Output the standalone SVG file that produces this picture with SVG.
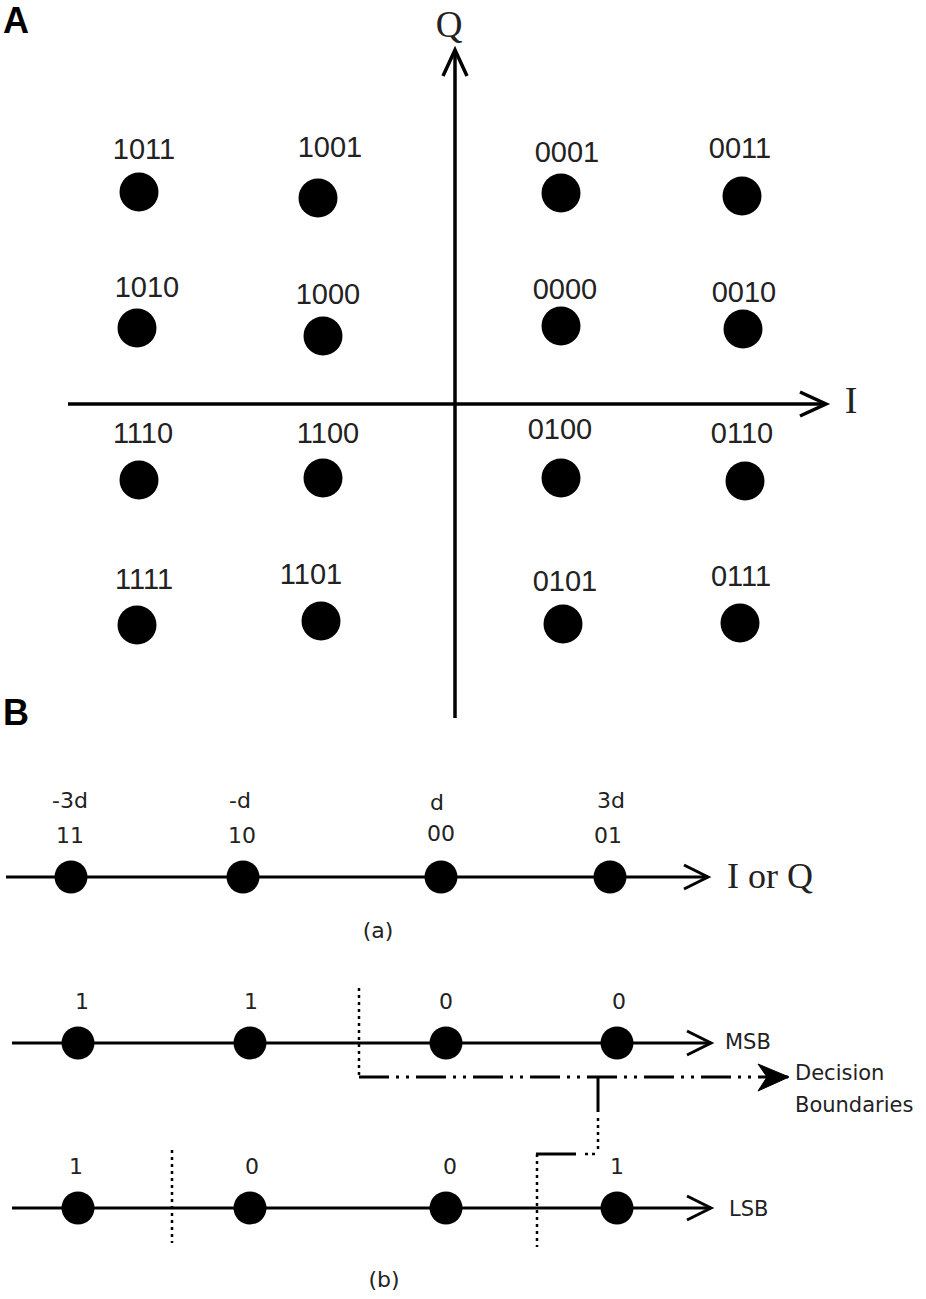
<svg xmlns="http://www.w3.org/2000/svg" width="926" height="1299" viewBox="0 0 926 1299">
<style>
.axis{stroke:#000;stroke-width:3.5;fill:none}
.ln{stroke:#000;stroke-width:3;fill:none}
.dot{fill:#000}
.lblA{font-family:"Liberation Sans",Arial,sans-serif;font-size:29px;fill:#222;text-anchor:middle}
.lblB{font-family:"DejaVu Sans",sans-serif;font-size:22px;fill:#222;text-anchor:middle}
.serif{font-family:"Liberation Serif","Times New Roman",serif;fill:#222}
.panel{font-family:"Liberation Sans",Arial,sans-serif;font-weight:bold;font-size:36px;fill:#000}
.side{font-family:"DejaVu Sans",sans-serif;font-size:21px;fill:#222}
.dotted{stroke:#000;stroke-width:2.5;stroke-dasharray:3 4;fill:none}
.dashdot{stroke:#000;stroke-width:3;stroke-dasharray:30 7 3 7 3 7;fill:none}
</style>
<defs>
<marker id="open" markerUnits="userSpaceOnUse" markerWidth="40" markerHeight="40" refX="0" refY="0" viewBox="-30 -20 34 40" orient="auto" overflow="visible">
<path d="M-26,-12 L0,0 L-26,12" fill="none" stroke="#000" stroke-width="3.5"/>
</marker>
<marker id="openS" markerUnits="userSpaceOnUse" markerWidth="40" markerHeight="40" refX="0" refY="0" viewBox="-30 -20 34 40" orient="auto" overflow="visible">
<path d="M-24,-12 L0,0 L-24,12" fill="none" stroke="#000" stroke-width="3"/>
</marker>
<marker id="filled" markerUnits="userSpaceOnUse" markerWidth="40" markerHeight="40" refX="0" refY="0" viewBox="-36 -20 40 40" orient="auto" overflow="visible">
<path d="M-31,-13 L0,0 L-31,14 L-22,0 Z" fill="#000" stroke="#000" stroke-width="1"/>
</marker>
</defs>
<rect width="926" height="1299" fill="#fff"/>

<!-- Panel A -->
<text class="panel" x="3" y="33">A</text>
<g id="connectors-A">
<line class="axis" x1="455" y1="718" x2="455" y2="50" marker-end="url(#open)"/>
<line class="axis" x1="68" y1="404" x2="826" y2="404" marker-end="url(#open)"/>
</g>
<text class="serif" x="449" y="37" font-size="37" text-anchor="middle">Q</text>
<text class="serif" x="851" y="413" font-size="38" text-anchor="middle">I</text>

<g id="p1011"><circle class="dot" cx="139" cy="192" r="19.5"/><text class="lblA" x="144" y="159">1011</text></g>
<g id="p1001"><circle class="dot" cx="318" cy="198" r="19.5"/><text class="lblA" x="330" y="157">1001</text></g>
<g id="p0001"><circle class="dot" cx="561" cy="193" r="19.5"/><text class="lblA" x="567" y="162">0001</text></g>
<g id="p0011"><circle class="dot" cx="742" cy="196" r="19.5"/><text class="lblA" x="740" y="158">0011</text></g>

<g id="p1010"><circle class="dot" cx="137" cy="328" r="19.5"/><text class="lblA" x="147" y="297">1010</text></g>
<g id="p1000"><circle class="dot" cx="323" cy="336" r="19.5"/><text class="lblA" x="328" y="304">1000</text></g>
<g id="p0000"><circle class="dot" cx="561" cy="326" r="19.5"/><text class="lblA" x="565" y="299">0000</text></g>
<g id="p0010"><circle class="dot" cx="743" cy="329" r="19.5"/><text class="lblA" x="744" y="302">0010</text></g>

<g id="p1110"><circle class="dot" cx="139" cy="480" r="19.5"/><text class="lblA" x="143" y="443">1110</text></g>
<g id="p1100"><circle class="dot" cx="323" cy="478" r="19.5"/><text class="lblA" x="328" y="443">1100</text></g>
<g id="p0100"><circle class="dot" cx="561" cy="478" r="19.5"/><text class="lblA" x="560" y="439">0100</text></g>
<g id="p0110"><circle class="dot" cx="745" cy="481" r="19.5"/><text class="lblA" x="742" y="443">0110</text></g>

<g id="p1111"><circle class="dot" cx="137" cy="625" r="19.5"/><text class="lblA" x="144" y="589">1111</text></g>
<g id="p1101"><circle class="dot" cx="321" cy="621" r="19.5"/><text class="lblA" x="311" y="584">1101</text></g>
<g id="p0101"><circle class="dot" cx="563" cy="624" r="19.5"/><text class="lblA" x="565" y="591">0101</text></g>
<g id="p0111"><circle class="dot" cx="740" cy="623" r="19.5"/><text class="lblA" x="741" y="586">0111</text></g>

<!-- Panel B -->
<text class="panel" x="3" y="725">B</text>

<g id="connectors-B">
<line class="ln" x1="6" y1="877" x2="708" y2="877" marker-end="url(#openS)"/>
<line class="ln" x1="12" y1="1043" x2="711" y2="1043" marker-end="url(#openS)"/>
<line class="ln" x1="12" y1="1208" x2="711" y2="1208" marker-end="url(#openS)"/>
<line class="dotted" x1="359" y1="988" x2="359" y2="1076"/>
<line class="dashdot" x1="359" y1="1077" x2="789" y2="1077" marker-end="url(#filled)"/>
<line class="ln" x1="598" y1="1077" x2="598" y2="1112"/>
<line class="dotted" x1="598" y1="1118" x2="598" y2="1152"/>
<line class="ln" x1="536" y1="1154" x2="576" y2="1154"/>
<line class="dotted" x1="585" y1="1154" x2="598" y2="1154" stroke-dasharray="3 6"/>
<line class="dotted" x1="537" y1="1154" x2="537" y2="1247"/>
<line class="dotted" x1="172" y1="1150" x2="172" y2="1243"/>
</g>

<!-- (a) -->
<g id="a-m3d"><circle class="dot" cx="71" cy="877" r="16.5"/><text class="lblB" x="70" y="808">-3d</text><text class="lblB" x="70" y="843">11</text></g>
<g id="a-md"><circle class="dot" cx="243" cy="877" r="16.5"/><text class="lblB" x="240" y="808">-d</text><text class="lblB" x="242" y="843">10</text></g>
<g id="a-d"><circle class="dot" cx="441" cy="877" r="16.5"/><text class="lblB" x="437" y="810">d</text><text class="lblB" x="441" y="841">00</text></g>
<g id="a-3d"><circle class="dot" cx="610" cy="877" r="16.5"/><text class="lblB" x="611" y="808">3d</text><text class="lblB" x="608" y="843">01</text></g>
<text class="serif" x="727" y="888" font-size="36">I or Q</text>
<text class="lblB" x="378" y="938" font-size="24">(a)</text>

<!-- (b) MSB -->
<g id="msb1"><circle class="dot" cx="78" cy="1043" r="16.5"/><text class="lblB" x="82" y="1009">1</text></g>
<g id="msb2"><circle class="dot" cx="250" cy="1043" r="16.5"/><text class="lblB" x="251" y="1009">1</text></g>
<g id="msb3"><circle class="dot" cx="446" cy="1043" r="16.5"/><text class="lblB" x="446" y="1009">0</text></g>
<g id="msb4"><circle class="dot" cx="617" cy="1043" r="16.5"/><text class="lblB" x="619" y="1009">0</text></g>
<text class="side" x="725" y="1049" font-size="20">MSB</text>
<text class="side" x="795" y="1080" font-size="21.5">Decision</text>
<text class="side" x="795" y="1112" font-size="21.5">Boundaries</text>

<!-- (b) LSB -->
<g id="lsb1"><circle class="dot" cx="78" cy="1208" r="16.5"/><text class="lblB" x="76" y="1174">1</text></g>
<g id="lsb2"><circle class="dot" cx="250" cy="1208" r="16.5"/><text class="lblB" x="252" y="1174">0</text></g>
<g id="lsb3"><circle class="dot" cx="446" cy="1208" r="16.5"/><text class="lblB" x="450" y="1174">0</text></g>
<g id="lsb4"><circle class="dot" cx="617" cy="1208" r="16.5"/><text class="lblB" x="617" y="1174">1</text></g>
<text class="side" x="729" y="1216" font-size="21">LSB</text>
<text class="lblB" x="384" y="1287" font-size="24">(b)</text>
</svg>
